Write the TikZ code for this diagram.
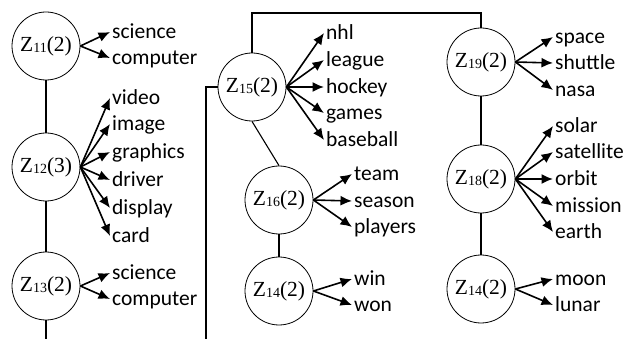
\documentclass[tikz,border=0pt]{standalone}
\usepackage{fontspec}
\setmainfont{Liberation Serif}
\newfontfamily\wordfont{Carlito}
\usetikzlibrary{arrows.meta}
\newcommand\zlab[2]{Z\raisebox{-1pt}{\fontsize{14}{14}\selectfont #1}(#2)}
\begin{document}
\begin{tikzpicture}[x=1pt,y=-1pt,
 znode/.style={circle,draw,line width=0.8pt,minimum size=68pt,inner sep=0pt,font=\fontsize{21.5}{21.5}\selectfont},
 word/.style={anchor=west,inner ysep=0pt,inner xsep=2pt,text height=16pt,text depth=3pt,font=\wordfont\fontsize{21.5}{22}\selectfont},
 arr/.style={line width=1.6pt,-{Latex[length=11.5pt,width=10pt]}},
 link/.style={line width=1.1pt}]
\useasboundingbox (0,0) rectangle (624,339);
% column 1
\node[znode] (z11) at (46,46) {\zlab{11}{2}};
\node[znode] (z12) at (46,167) {\zlab{12}{3}};
\node[znode] (z13) at (46,286) {\zlab{13}{2}};
\node[word] (a1) at (110,32) {science};
\node[word] (a2) at (110,58) {computer};
\node[word] (b1) at (110,98) {video};
\node[word] (b2) at (110,124) {image};
\node[word] (b3) at (110,152) {graphics};
\node[word] (b4) at (110,180) {driver};
\node[word] (b5) at (110,208) {display};
\node[word] (b6) at (110,236) {card};
\node[word] (c1) at (110,273) {science};
\node[word] (c2) at (110,299) {computer};
% column 2
\node[znode] (z15) at (252,87) {\zlab{15}{2}};
\node[znode] (z16) at (279,200) {\zlab{16}{2}};
\node[znode] (z14a) at (279,291) {\zlab{14}{2}};
\node[word] (d1) at (324,33) {nhl};
\node[word] (d2) at (324,60) {league};
\node[word] (d3) at (324,87) {hockey};
\node[word] (d4) at (324,113) {games};
\node[word] (d5) at (324,140) {baseball};
\node[word] (e1) at (352,174) {team};
\node[word] (e2) at (352,201) {season};
\node[word] (e3) at (352,227) {players};
\node[word] (f1) at (352,279) {win};
\node[word] (f2) at (352,305) {won};
% column 3
\node[znode] (z19) at (481,62) {\zlab{19}{2}};
\node[znode] (z18) at (481,179) {\zlab{18}{2}};
\node[znode] (z14b) at (481,289) {\zlab{14}{2}};
\node[word] (g1) at (553,37) {space};
\node[word] (g2) at (553,63) {shuttle};
\node[word] (g3) at (553,90) {nasa};
\node[word] (h1) at (553,126) {solar};
\node[word] (h2) at (553,152) {satellite};
\node[word] (h3) at (553,179) {orbit};
\node[word] (h4) at (553,206) {mission};
\node[word] (h5) at (553,232) {earth};
\node[word] (k1) at (553,279) {moon};
\node[word] (k2) at (553,305) {lunar};
% arrows
\foreach \w in {a1,a2} \draw[arr] (z11.east) -- (\w.west);
\foreach \w in {b1,b2,b3,b4,b5,b6} \draw[arr] (z12.east) -- (\w.west);
\foreach \w in {c1,c2} \draw[arr] (z13.east) -- (\w.west);
\foreach \w in {d1,d2,d3,d4,d5} \draw[arr] (z15.east) -- (\w.west);
\foreach \w in {e1,e2,e3} \draw[arr] (z16.east) -- (\w.west);
\foreach \w in {f1,f2} \draw[arr] (z14a.east) -- (\w.west);
\foreach \w in {g1,g2,g3} \draw[arr] (z19.east) -- (\w.west);
\foreach \w in {h1,h2,h3,h4,h5} \draw[arr] (z18.east) -- (\w.west);
\foreach \w in {k1,k2} \draw[arr] (z14b.east) -- (\w.west);
% links
\coordinate (bot1) at (46,339);
\coordinate (bot2) at (206,339);
\coordinate (topy) at (0,13);
\draw[link] (z11.south) -- (z12.north);
\draw[link] (z12.south) -- (z13.north);
\draw[link] (z13.south) -- (bot1);
\draw[link] (z15.west) -| (bot2);
\draw[link] (z15.north) -- (z15.north |- topy) -| (z19.north);
\draw[link] (z15.south) -- (z16.north);
\draw[link] (z16.south) -- (z14a.north);
\draw[link] (z19.south) -- (z18.north);
\draw[link] (z18.south) -- (z14b.north);
\end{tikzpicture}
\end{document}
